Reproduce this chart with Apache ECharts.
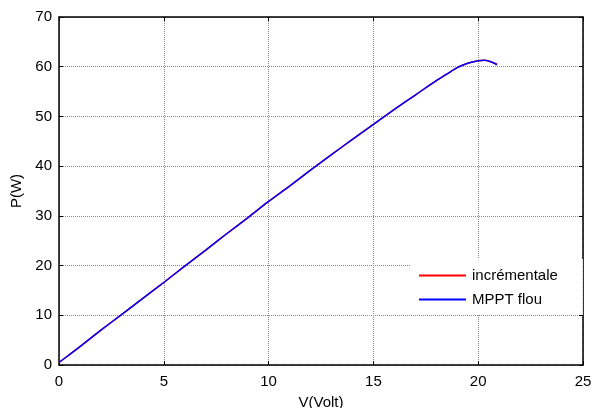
<!DOCTYPE html>
<html>
<head>
<meta charset="utf-8">
<script src="https://cdn.jsdelivr.net/npm/echarts@6/dist/echarts.min.js"></script>
<style>
  html,body{margin:0;padding:0;background:#fff;}
  #chart{width:593px;height:408px;}
</style>
</head>
<body>
<div id="chart"></div>
<script>
// tension (V) et puissance (W)
var volts = [0, 0.5, 1, 2, 3, 4, 5, 6, 7, 8, 9, 10, 11, 12, 13, 14, 15, 16, 17, 18, 18.5, 19, 19.5, 20, 20.3, 20.6, 20.9];
var pIncr = [0.5, 2.1, 3.7, 7.0, 10.2, 13.4, 16.6, 19.9, 23.1, 26.4, 29.6, 32.9, 36.0, 39.2, 42.3, 45.4, 48.4, 51.4, 54.3, 57.2, 58.5, 59.8, 60.7, 61.2, 61.3, 61.0, 60.5];
var pFlou = [0.5, 2.1, 3.7, 7.0, 10.2, 13.4, 16.6, 19.9, 23.1, 26.4, 29.6, 32.9, 36.0, 39.2, 42.3, 45.4, 48.4, 51.4, 54.3, 57.2, 58.5, 59.8, 60.7, 61.2, 61.3, 61.0, 60.4];
var xTicks = [0, 25, 5];
var yTicks = [0, 70, 10];

function pairs(xs, ys) {
  return xs.map(function (x, i) { return [x, ys[i]]; });
}

var myChart = echarts.init(document.getElementById('chart'));
var font = 'Liberation Sans, Arial, sans-serif';
var tickStyle = {show: true, inside: true, length: 4, lineStyle: {color: '#000'}};
var gridLine = {show: true, lineStyle: {color: '#8a8a8a', type: [1, 1], width: 1}};

var option = {
  animation: false,
  grid: {left: 59, right: 10, top: 17, bottom: 43, show: false, containLabel: false, outerBoundsMode: 'none'},
  legend: {
    left: 410, top: 259,
    orient: 'vertical',
    backgroundColor: '#fff',
    padding: [9, 25, 8, 9],
    itemWidth: 47, itemHeight: 2, itemGap: 9,
    icon: 'rect',
    textStyle: {fontFamily: font, fontSize: 15, color: '#000', padding: [0, 0, 0, 1]},
    data: ['incrémentale', 'MPPT flou']
  },
  xAxis: [{
    type: 'value', min: xTicks[0], max: xTicks[1], interval: xTicks[2],
    name: 'V(Volt)', nameLocation: 'middle', nameGap: 30,
    nameTextStyle: {fontFamily: font, fontSize: 15, color: '#000'},
    axisLine: {show: true, onZero: false, lineStyle: {color: '#000', width: 1.5}},
    axisTick: tickStyle,
    axisLabel: {fontFamily: font, fontSize: 15, color: '#000', margin: 9},
    splitLine: gridLine
  }, {
    type: 'value', position: 'top', min: xTicks[0], max: xTicks[1], interval: xTicks[2],
    axisLine: {show: true, onZero: false, lineStyle: {color: '#000', width: 1.5}},
    axisTick: tickStyle, axisLabel: {show: false}, splitLine: {show: false}
  }],
  yAxis: [{
    type: 'value', min: yTicks[0], max: yTicks[1], interval: yTicks[2],
    name: 'P(W)', nameLocation: 'middle', nameGap: 34, nameRotate: 90,
    nameTextStyle: {fontFamily: font, fontSize: 15, color: '#000'},
    axisLine: {show: true, onZero: false, lineStyle: {color: '#000', width: 1.5}},
    axisTick: tickStyle,
    axisLabel: {fontFamily: font, fontSize: 15, color: '#000', margin: 7},
    splitLine: gridLine
  }, {
    type: 'value', position: 'right', min: yTicks[0], max: yTicks[1], interval: yTicks[2],
    axisLine: {show: true, onZero: false, lineStyle: {color: '#000', width: 1.5}},
    axisTick: tickStyle, axisLabel: {show: false}, splitLine: {show: false}
  }],
  series: [{
    name: 'incrémentale', type: 'line', showSymbol: false, symbol: 'none',
    smooth: 0.3, color: '#ff0000', lineStyle: {width: 1.5},
    data: pairs(volts, pIncr)
  }, {
    name: 'MPPT flou', type: 'line', showSymbol: false, symbol: 'none',
    smooth: 0.3, color: '#0000ff', lineStyle: {width: 1.5},
    data: pairs(volts, pFlou)
  }]
};

myChart.setOption(option);
</script>
</body>
</html>
